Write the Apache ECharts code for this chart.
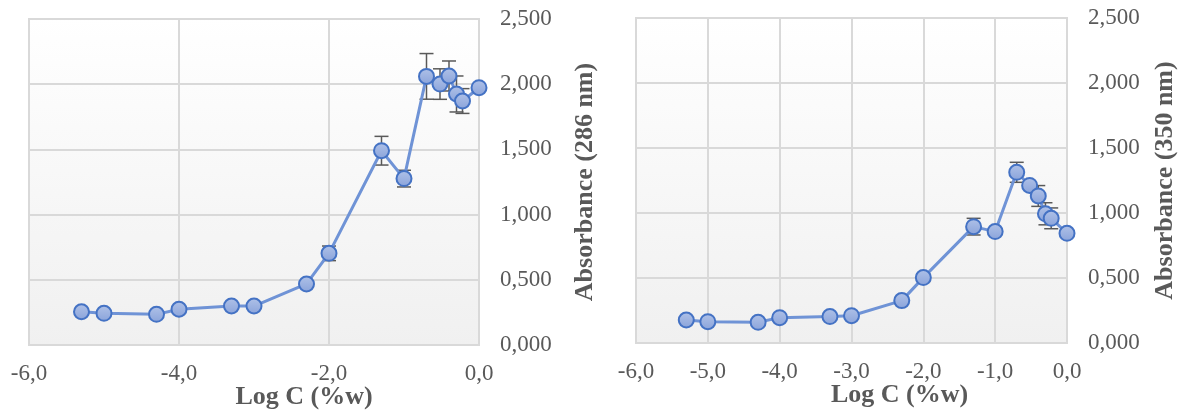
<!DOCTYPE html>
<html>
<head>
<meta charset="utf-8">
<script src="https://cdn.jsdelivr.net/npm/echarts@6/dist/echarts.min.js"></script>
<style>
html,body{margin:0;padding:0;background:#fff;}
#c{width:1183px;height:412px;}
</style>
</head>
<body>
<div id="c"></div>
<script>
// Data
const logC = [-5.3, -5.0, -4.3, -4.0, -3.3, -3.0, -2.3, -2.0, -1.3, -1.0, -0.7, -0.52, -0.4, -0.3, -0.22, 0.0];
const abs286 = [0.255, 0.243, 0.235, 0.274, 0.299, 0.299, 0.468, 0.703, 1.490, 1.276, 2.060, 2.001, 2.063, 1.925, 1.871, 1.973];
const err286 = [0, 0, 0, 0, 0, 0, 0, 0.056, 0.110, 0.064, 0.175, 0.117, 0.115, 0.138, 0.095, 0];
const abs350 = [0.177, 0.164, 0.159, 0.195, 0.203, 0.210, 0.326, 0.503, 0.895, 0.857, 1.313, 1.212, 1.131, 0.994, 0.959, 0.844];
const err350 = [0, 0, 0, 0, 0, 0, 0, 0.030, 0.064, 0, 0.077, 0, 0.080, 0.085, 0.080, 0];
const xTitle = 'Log C (%w)';
const yTitle1 = 'Absorbance (286 nm)';
const yTitle2 = 'Absorbance (350 nm)';

const FONT = '"Liberation Serif", "Times New Roman", serif';
const GRAY = '#595959';
const GRID = '#d9d9d9';

function pairs(xs, ys) { return xs.map((x, i) => [x, ys[i]]); }
function errData(xs, ys, es) {
  const out = [];
  xs.forEach((x, i) => { if (es[i] > 0) out.push([x, ys[i] - es[i], ys[i] + es[i]]); });
  return out;
}
function renderErr(params, api) {
  const x = api.value(0);
  const lo = api.coord([x, api.value(1)]);
  const hi = api.coord([x, api.value(2)]);
  const cw = 7;
  const st = { stroke: GRAY, lineWidth: 1.5, fill: null };
  return {
    type: 'group',
    children: [
      { type: 'line', shape: { x1: lo[0], y1: lo[1], x2: hi[0], y2: hi[1] }, style: st },
      { type: 'line', shape: { x1: lo[0] - cw, y1: lo[1], x2: lo[0] + cw, y2: lo[1] }, style: st },
      { type: 'line', shape: { x1: hi[0] - cw, y1: hi[1], x2: hi[0] + cw, y2: hi[1] }, style: st }
    ]
  };
}
const bg = new echarts.graphic.LinearGradient(0, 0, 0, 1, [
  { offset: 0, color: '#ffffff' }, { offset: 1, color: '#f0f0f0' }
]);
function xAx(idx, interval, pad) {
  return {
    gridIndex: idx, type: 'value', min: -6, max: 0, interval: interval,
    axisLine: { show: false }, axisTick: { show: false },
    splitLine: { lineStyle: { color: GRID, width: 2 } },
    axisLabel: { color: GRAY, fontFamily: FONT, fontSize: 23, margin: 17,
      formatter: v => v.toFixed(1).replace('.', ',') },
    name: xTitle, nameLocation: 'middle', nameGap: 39, nameMoveOverlap: false,
    nameTextStyle: { color: GRAY, fontFamily: FONT, fontSize: 26, fontWeight: 'bold', padding: [0, 0, 0, pad] }
  };
}
function yAx(idx, title, gap) {
  return {
    gridIndex: idx, type: 'value', position: 'right', min: 0, max: 2.5, interval: 0.5,
    axisLine: { show: false }, axisTick: { show: false },
    splitLine: { lineStyle: { color: GRID, width: 2 } },
    axisLabel: { color: GRAY, fontFamily: FONT, fontSize: 23, margin: 21,
      formatter: v => v.toFixed(3).replace('.', ',') },
    name: title, nameLocation: 'middle', nameGap: gap, nameRotate: 90, nameMoveOverlap: false,
    nameTextStyle: { color: GRAY, fontFamily: FONT, fontSize: 26, fontWeight: 'bold' }
  };
}
function lineSeries(idx, ys) {
  return {
    type: 'line', xAxisIndex: idx, yAxisIndex: idx, data: pairs(logC, ys),
    symbol: 'circle', symbolSize: 15, z: 3,
    lineStyle: { color: '#6f93d6', width: 3 },
    itemStyle: {
      color: new echarts.graphic.LinearGradient(0, 0, 0, 1, [
        { offset: 0, color: '#b0c2e8' }, { offset: 1, color: '#8aa3da' }
      ]),
      borderColor: '#4472c4', borderWidth: 2
    },
    emphasis: { disabled: true }, animation: false
  };
}
function errSeries(idx, ys, es) {
  return {
    type: 'custom', xAxisIndex: idx, yAxisIndex: idx, data: errData(logC, ys, es),
    renderItem: renderErr, z: 2, animation: false, silent: true
  };
}

const chart = echarts.init(document.getElementById('c'));
chart.setOption({
  animation: false,
  grid: [
    { left: 29, right: 704, top: 19, bottom: 67, show: true, backgroundColor: bg, borderColor: GRID, borderWidth: 2, outerBoundsMode: 'none', containLabel: false },
    { left: 636, right: 116, top: 18, bottom: 69, show: true, backgroundColor: bg, borderColor: GRID, borderWidth: 2, outerBoundsMode: 'none', containLabel: false }
  ],
  xAxis: [xAx(0, 2, 100), xAx(1, 1, 96)],
  yAxis: [yAx(0, yTitle1, 93), yAx(1, yTitle2, 85)],
  series: [
    errSeries(0, abs286, err286), lineSeries(0, abs286),
    errSeries(1, abs350, err350), lineSeries(1, abs350)
  ]
});
</script>
</body>
</html>
